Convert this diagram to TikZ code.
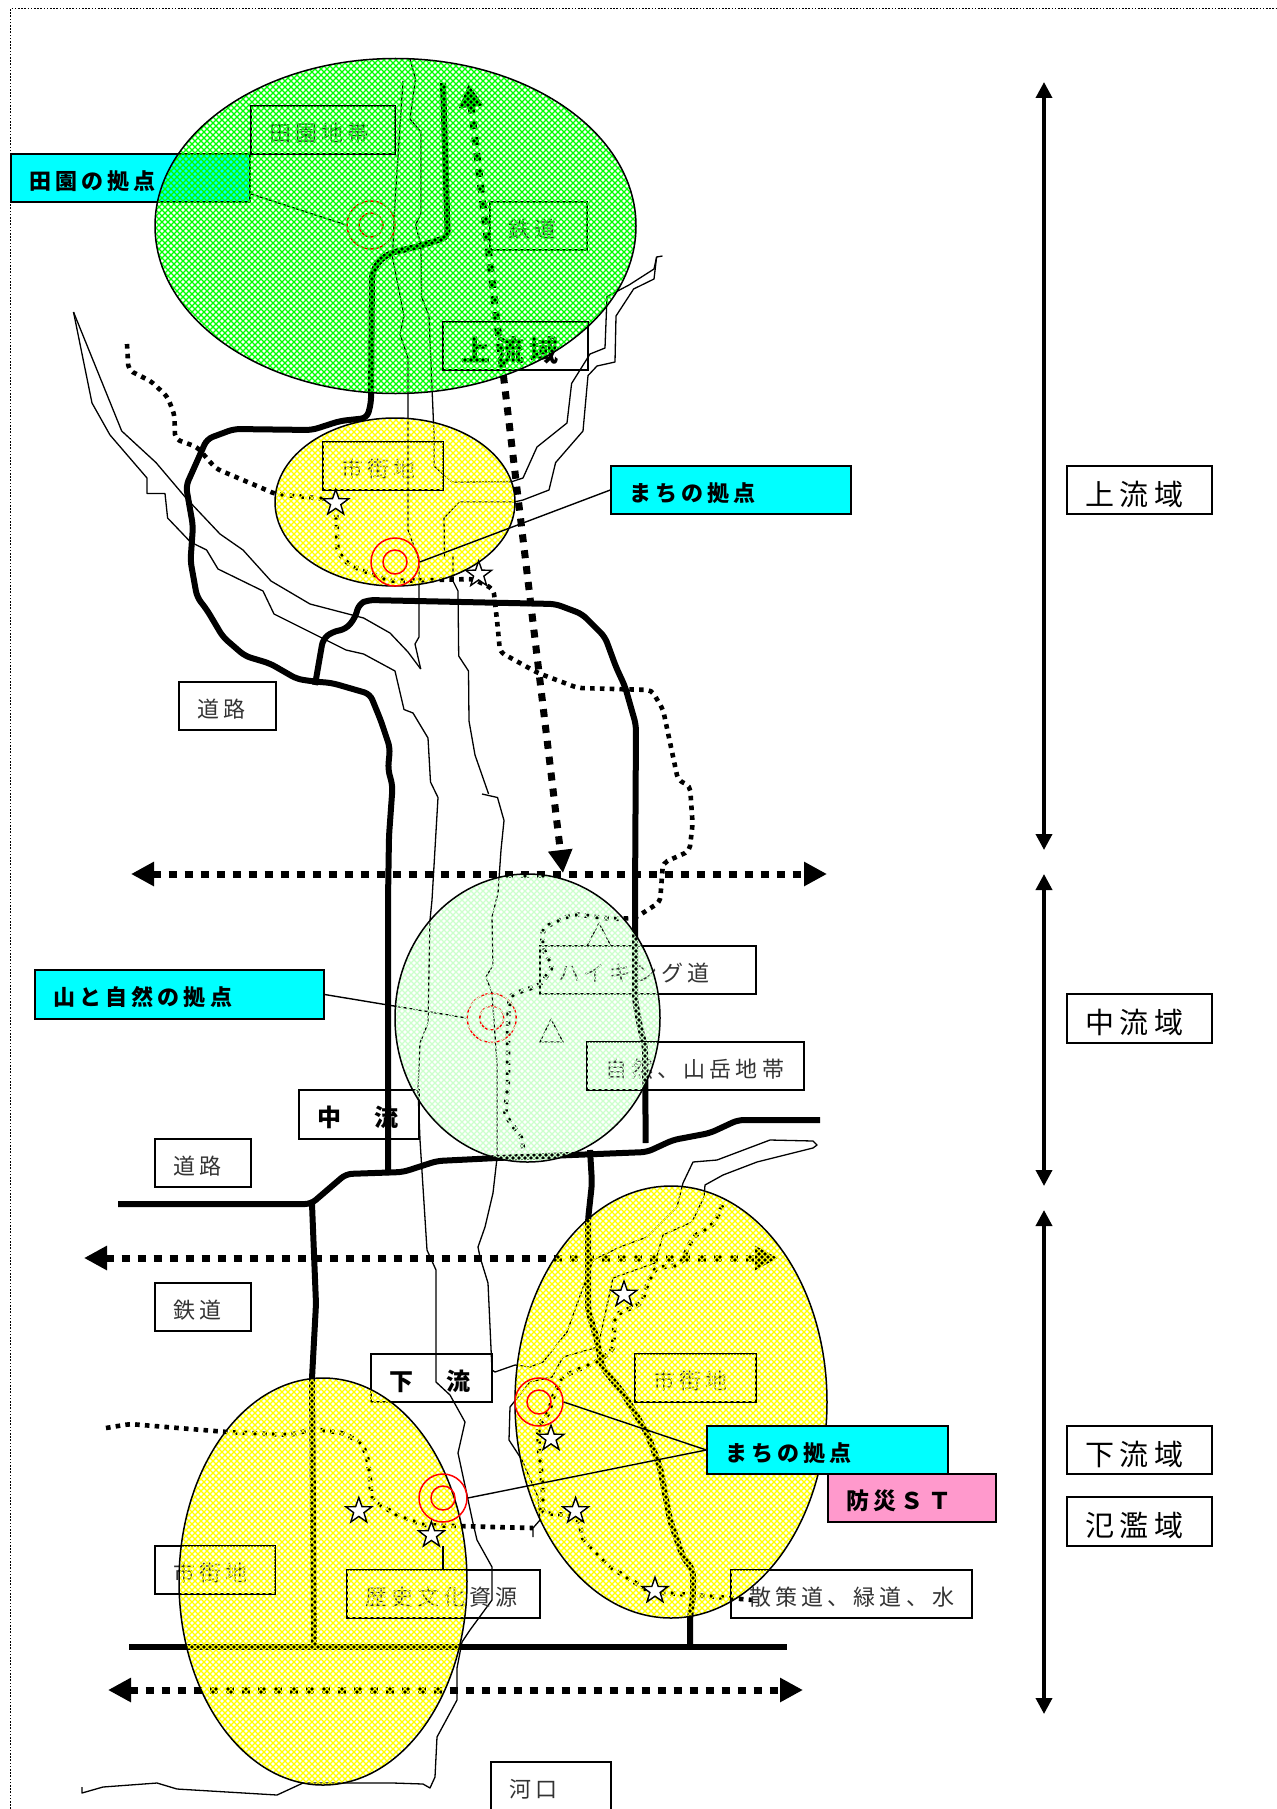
\documentclass[tikz,border=0pt]{standalone}
\usepackage{fontspec}
\setmainfont[LetterSpace=19]{Noto Sans CJK JP}
\usetikzlibrary{arrows.meta,shapes.geometric}
\definecolor{grn}{HTML}{00FF00}
\definecolor{pgrn}{HTML}{CCFFCC}
\definecolor{yel}{HTML}{FFFF00}
\definecolor{cyn}{HTML}{00FFFF}
\definecolor{pnk}{HTML}{FF99CC}
\definecolor{lab}{gray}{0.2}
\tikzset{
 riv/.style={line width=0.65pt,line join=round},
 road/.style={line width=3pt,line join=round,rounded corners=3pt},
 walk/.style={line width=2.3pt,dash pattern=on 2.3pt off 2.6pt,rounded corners=2.5pt},
 bigarrow/.style={line width=3.5pt,dash pattern=on 4pt off 4pt,{Triangle[length=11.5pt,width=11.5pt]}-{Triangle[length=11.5pt,width=11.5pt]}},
 span/.style={line width=1.8pt,{Triangle[length=8pt,width=8pt]}-{Triangle[length=8pt,width=8pt]}},
 leader/.style={line width=0.7pt},
 rc/.style={circle,draw=red,line width=0.75pt,inner sep=0pt,fill=none},
 starn/.style={star,star points=5,star point ratio=2.5,draw=black,fill=white,line width=0.7pt,inner sep=0pt,minimum size=13.5pt},
 boxs/.style={draw=black,line width=0.7pt,align=left,inner ysep=0pt,inner xsep=9pt,font=\fontsize{11}{13}\selectfont,text=lab},
 bigs/.style={text=black,font=\fontsize{14.5}{16}\selectfont},
 bigb/.style={text=black,font=\fontsize{14.5}{16}\selectfont\bfseries},
 midb/.style={text=black,font=\fontsize{12}{14}\selectfont\bfseries},
 cyb/.style={fill=cyn,text=black,font=\fontsize{11}{13}\selectfont\bfseries},
 pkb/.style={fill=pnk,text=black,font=\fontsize{11.5}{14}\selectfont\bfseries},
 outl/.style={draw=black,line width=0.7pt}
}
% box from (x0,y0) to (x1,y1)
\newcommand\lab[7][]{%
 \pgfmathsetmacro\labw{(#5-#3)*0.5-18}%
 \pgfmathsetmacro\labh{(#6-#4)*0.5}%
 \pgfmathsetmacro\labx{(#3+#5)/2}%
 \pgfmathsetmacro\laby{(#4+#6)/2}%
 \node[boxs,#1,text width=\labw pt,minimum height=\labh pt] (#2) at (\labx,\laby) {\raisebox{-0.52em}[0pt][0pt]{#7}};}
\newcommand\ellhatch[5]{%
 \begin{scope}
 \clip (#1,#2) ellipse [x radius=#3,y radius=#4];
 \pgfmathtruncatemacro\hya{#2-#4-1}%
 \pgfmathtruncatemacro\hyb{#2+#4+1}%
 \pgfmathtruncatemacro\hsa{6*floor((#1-#3+#2-#4)/6)}%
 \pgfmathtruncatemacro\hsb{\hsa+6}%
 \pgfmathtruncatemacro\hse{#1+#3+#2+#4+6}%
 \pgfmathtruncatemacro\hda{6*floor((#1-#3-#2-#4)/6)}%
 \pgfmathtruncatemacro\hdb{\hda+6}%
 \pgfmathtruncatemacro\hde{#1+#3-#2+#4+6}%
 \foreach \c in {\hsa,\hsb,...,\hse} {\draw[#5,line width=0.62pt] ({\c-\hya},\hya) -- ({\c-\hyb},\hyb);}
 \foreach \c in {\hda,\hdb,...,\hde} {\draw[#5,line width=0.62pt] ({\c+\hya},\hya) -- ({\c+\hyb},\hyb);}
 \end{scope}
 \draw[black,line width=0.75pt] (#1,#2) ellipse [x radius=#3,y radius=#4];}
\begin{document}
\begin{tikzpicture}[x=0.5pt,y=-0.5pt]
\useasboundingbox (0,0) rectangle (1277,1809);
\clip (0,0) rectangle (1277,1809);
% page border
\draw[line width=0.5pt,dash pattern=on 0.8pt off 0.8pt] (10,1809) -- (10,9) -- (1277,9);
% rivers
\draw[riv] (73.5,312) -- (92,403) -- (110,435) -- (147,478) -- (147,493.5) -- (165,493.5) -- (167.6,518) -- (190.5,542) -- (206.6,550) -- (218,569) -- (263,591) -- (274,614) -- (346,650) -- (363.6,654) -- (395,671) -- (404,709.5) -- (413,713) -- (428,738) -- (430.5,782) -- (438,797.5) -- (432,900) -- (430,920) -- (428,1023) -- (420,1043) -- (418,1090) -- (420,1140) -- (427,1250) -- (436,1270) -- (436,1382) -- (450,1395) -- (465,1422) -- (458,1453) -- (473,1523) -- (477,1540) -- (492,1567) -- (492,1600) -- (470,1630) -- (462,1642) -- (457,1668) -- (457,1700) -- (437,1737) -- (435,1777) -- (430,1788) -- (423,1784) -- (393,1783) -- (303,1783) -- (277,1795) -- (177,1789) -- (157,1783) -- (103,1787) -- (82,1793) -- (82,1787);
\draw[riv] (73.5,312) -- (121.7,431) -- (156,462.6) -- (186,498) -- (220,534) -- (243,550) -- (271,581) -- (310,604) -- (363.6,618) -- (390,633) -- (408,652) -- (420.7,669);
\draw[riv] (403,81) -- (395,202) -- (392.5,257) -- (404,316) -- (400,334) -- (408,358) -- (408,530) -- (419,560) -- (419,637) -- (415,644) -- (420.7,669);
\draw[riv] (410,59) -- (415.5,79) -- (410,119) -- (421,132) -- (421,213.5) -- (415.5,225) -- (421,245) -- (421.5,296.6) -- (429,316) -- (434,435) -- (434,466) -- (452,482) -- (512,481.6) -- (523,478) -- (537,447) -- (567,423) -- (571.6,383.5) -- (590,354) -- (605,348) -- (607,296.6) -- (629,285) -- (654,269) -- (656.6,257) -- (662.5,256);
\draw[riv] (514,502) -- (523,500) -- (549,490) -- (555.6,462.6) -- (583,431) -- (588,375.6) -- (597,366) -- (615,362) -- (616,316) -- (633.6,289) -- (654,279) -- (656.6,257);
\draw[riv] (514,502) -- (459,502) -- (444,518) -- (444.5,557.5);
\draw[riv] (453,553.6) -- (453,581) -- (458,591) -- (458.7,656) -- (468.5,671) -- (469,721) -- (475,755) -- (488.6,794);
\draw[riv] (482,794) -- (497.5,797.5) -- (504,820.5) -- (501,850) -- (498,893) -- (492,917) -- (493,965) -- (486,977) -- (492,993) -- (497,1063) -- (497,1158) -- (493,1193) -- (485,1227) -- (478,1247) -- (480,1257) -- (488,1283) -- (492,1370) -- (495,1372) -- (515,1365) -- (530,1367) -- (543,1362) -- (567,1332) -- (593,1260) -- (620,1247) -- (647,1237) -- (677,1207) -- (683,1183) -- (693,1162) -- (717,1160) -- (770,1140) -- (813,1141) -- (817,1145) -- (813,1148) -- (757,1162) -- (723,1175) -- (705,1185) -- (704,1197) -- (692,1222) -- (663,1235) -- (655,1263) -- (613,1278) -- (598,1347) -- (563,1357) -- (552,1377) -- (530,1382) -- (510,1407) -- (509,1440) -- (522,1460) -- (538,1497) -- (540,1520) -- (533,1528) -- (533,1537);
% roads
\draw[road] (443,83) -- (447.7,237) -- (420,246) -- (390,253) -- (379,261) -- (372,273) -- (371,403) -- (367,418) -- (340,421) -- (312,430) -- (234,429) -- (207,439) -- (186,486) -- (193,526) -- (190.5,561) -- (197,597) -- (207,610) -- (223,637) -- (245,656) -- (270,663.5) -- (297,679) -- (314,681.5) -- (332,683) -- (370,694) -- (381,721) -- (390,748) -- (388,769) -- (392.6,786) -- (389,836) -- (388,900) -- (388,1175);
\draw[road] (315,685) -- (323,639) -- (332,632) -- (346,629) -- (355,618) -- (359,604) -- (368,600) -- (555.5,604) -- (582,614) -- (605,637) -- (616,667) -- (625,686.5) -- (636,725) -- (635,900) -- (635,937) -- (635,1000) -- (640,1027) -- (645,1047) -- (645.7,1143);
\draw[road] (118,1204) -- (311,1204) -- (346,1174) -- (403,1172) -- (437,1161) -- (497,1158) -- (647,1152) -- (673,1140) -- (710,1133) -- (738,1120) -- (820,1120);
\draw[road] (312,1204) -- (316,1304) -- (312,1378) -- (314,1647);
\draw[road] (590,1150) -- (592,1183) -- (588,1220) -- (588,1310) -- (597,1340) -- (602,1367) -- (623,1393) -- (647,1433) -- (660,1467) -- (670,1520) -- (683,1557) -- (693,1570) -- (693,1597) -- (690,1617) -- (690,1648);
\draw[road] (129,1647) -- (787,1647);
% walking paths
\draw[walk] (127,344) -- (128.5,370) -- (151.5,381.6) -- (167.6,397) -- (174.5,415) -- (175,439) -- (197,447) -- (216,468.6) -- (257,486) -- (275.5,494) -- (335,500) -- (336.5,518) -- (337.5,551.6) -- (349,565) -- (390,581) -- (473,579) -- (493.5,589) -- (497.5,625) -- (500,652) -- (538,673) -- (578,688) -- (651.5,690) -- (663,709.5) -- (678,780) -- (690,786) -- (692.6,824) -- (689.5,851) -- (663,863) -- (660,902) -- (635,918) -- (613,919) -- (573,914) -- (543,928) -- (542,947) -- (553,967) -- (540,985) -- (510,995) -- (508,1023) -- (508,1083) -- (505,1115) -- (522,1138) -- (523,1150);
\draw[walk] (106,1428) -- (130,1424) -- (227,1432) -- (290,1435) -- (313,1429) -- (343,1433) -- (362,1443) -- (368,1460) -- (372,1500) -- (397,1515) -- (423,1525) -- (493,1527) -- (533,1528);
\draw[walk] (722,1205) -- (715,1223) -- (693,1237) -- (680,1265) -- (655,1268) -- (645,1290) -- (642,1303) -- (615,1315) -- (613,1350) -- (600,1360) -- (562,1377) -- (553,1397) -- (548,1415) -- (538,1425) -- (539,1450) -- (543,1490) -- (542,1513) -- (567,1515) -- (580,1520) -- (582,1538) -- (607,1565) -- (650,1592) -- (693,1595) -- (753,1600);
% big dashed arrows
\coordinate (da1) at (468.5,84); \coordinate (da2) at (563,873);
\draw[bigarrow] (da1) -- (da2);
\coordinate (ha1) at (131,874); \coordinate (ha2) at (827,874);
\draw[bigarrow] (ha1) -- (ha2);
\coordinate (hb1) at (84,1258); \coordinate (hb2) at (778,1258);
\draw[bigarrow] (hb1) -- (hb2);
\coordinate (hc1) at (108,1690); \coordinate (hc2) at (803,1690);
\draw[bigarrow] (hc1) -- (hc2);
% span arrows
\coordinate (va1) at (1044,82); \coordinate (va2) at (1044,850);
\draw[span] (va1) -- (va2);
\coordinate (vb1) at (1044,874); \coordinate (vb2) at (1044,1186);
\draw[span] (vb1) -- (vb2);
\coordinate (vc1) at (1044,1210); \coordinate (vc2) at (1044,1714);
\draw[span] (vc1) -- (vc2);
% labels under the hatching
\lab[cyb]{lCyanA}{11}{154}{250}{202}{田園の拠点}
\lab{lDenen}{251}{106}{395}{154}{田園地帯}
\lab{lRailA}{490}{202}{587}{250}{鉄道}
\lab[bigb]{lUp}{443}{322}{588}{370}{上流域}
\lab{lCityA}{323}{442}{443}{490}{市街地}
\lab{lRoadA}{179}{682}{276}{730}{道路}
\lab{lHike}{540}{946}{756}{994}{ハイキング道}
\lab{lNature}{587}{1042}{804}{1090}{自然、山岳地帯}
\lab[midb]{lMid}{299}{1090}{419}{1139}{中　流}
\lab{lRoadB}{155}{1139}{251}{1187}{道路}
\lab{lRailB}{155}{1283}{251}{1331}{鉄道}
\lab[midb]{lLow}{371}{1354}{492}{1402}{下　流}
\lab{lCityB}{635}{1354}{756}{1402}{市街地}
\lab{lWalk}{731}{1570}{972}{1618}{散策道、緑道、水}
\lab{lHist}{347}{1570}{540}{1618}{歴史文化資源}
\lab{lCityC}{155}{1546}{275}{1594}{市街地}
\lab{lMouth}{491}{1762}{611}{1810}{河口}
% bases under the green and pale ellipses
\node[rc,minimum size=24pt] (cA) at (371,225) {};
\node[rc,minimum size=12pt] (cAi) at (371,225) {};
\coordinate (cyanAc) at (251,194);
\draw[leader] (cyanAc) -- (cA.west);
\node[rc,minimum size=24.5pt] (cC) at (491.7,1018) {};
\node[rc,minimum size=12pt] (cCi) at (491.7,1018) {};
\lab[cyb]{lCyanC}{35}{970}{324}{1019}{山と自然の拠点}
\draw[leader] (lCyanC.east) -- (cC.west);
\draw[line width=0.6pt] (599,923) -- (611,946) -- (587,946) -- cycle;
\draw[line width=0.6pt] (551,1019) -- (563,1042) -- (540,1042) -- cycle;
% hatched ellipses
\ellhatch{395.5}{226}{240.5}{167.5}{grn}
\ellhatch{395}{502}{120}{84}{yel}
\ellhatch{527.5}{1018}{132.5}{144}{pgrn}
\ellhatch{671}{1402}{156}{216}{yel}
\ellhatch{323}{1581.5}{144}{203.5}{yel}
% solid outlines seen over the hatching
\foreach \n in {lDenen,lUp,lCityA,lNature,lCityB,lWalk,lHist,lCityC}
 {\draw[outl] (\n.south west) rectangle (\n.north east);}
% bases over the yellow ellipses
\node[rc,minimum size=24pt] (cB) at (395,562) {};
\node[rc,minimum size=12pt] (cBi) at (395,562) {};
\node[rc,minimum size=24pt] (cD) at (539,1402) {};
\node[rc,minimum size=12pt] (cDi) at (539,1402) {};
\node[rc,minimum size=24pt] (cE) at (443,1498) {};
\node[rc,minimum size=12pt] (cEi) at (443,1498) {};
\lab[cyb]{lCyanB}{611}{466}{851}{514}{まちの拠点}
\draw[leader] (lCyanB.west) -- (cB.east);
\lab[cyb]{lCyanD}{707}{1426}{948}{1474}{まちの拠点}
\draw[leader] (lCyanD.west) -- (cD.east);
\draw[leader] (lCyanD.west) -- (cE.east);
\lab[pkb]{lPink}{828}{1474}{996}{1522}{防災ＳＴ}
\coordinate (histTop) at (443,1546);
\draw[leader] (lHist.north -| histTop) -- (histTop);
% right column
\lab[bigs]{lR1}{1067}{466}{1212}{514}{上流域}
\lab[bigs]{lR2}{1067}{994}{1212}{1043}{中流域}
\lab[bigs]{lR3}{1067}{1426}{1212}{1474}{下流域}
\lab[bigs]{lR4}{1067}{1497}{1212}{1546}{氾濫域}
% stars
\node[starn] (s1) at (335.7,503) {};
\node[starn] (s2) at (478.7,574.5) {};
\node[starn] (s3) at (624,1294.5) {};
\node[starn] (s4) at (551,1438.5) {};
\node[starn] (s5) at (575.6,1511) {};
\node[starn] (s6) at (655,1590.8) {};
\node[starn] (s7) at (358.8,1511) {};
\node[starn] (s8) at (431.4,1535) {};
\end{tikzpicture}
\end{document}
